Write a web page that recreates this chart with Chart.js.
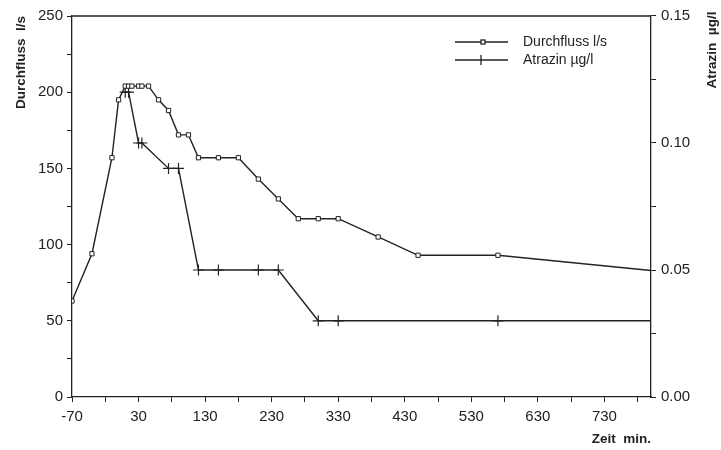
<!DOCTYPE html>
<html lang="de">
<head>
<meta charset="UTF-8">
<title>Durchfluss und Atrazin</title>
<script src="https://cdn.jsdelivr.net/npm/chart.js"></script>
<style>
  html, body { margin: 0; padding: 0; background: #fff; }
  #wrap { width: 721px; height: 450px; }
</style>
</head>
<body>
<div id="wrap"><canvas id="grafik"></canvas></div>
<script>
// Werte
var zeitDurchfluss = [-70, -40, -10, 0, 10, 15, 20, 30, 35, 45, 60, 75, 90, 105, 120, 150, 180, 210, 240, 270, 300, 330, 390, 450, 570, 800];
var durchfluss = [63, 94, 157, 195, 204, 204, 204, 204, 204, 204, 195, 188, 172, 172, 157, 157, 157, 143, 130, 117, 117, 117, 105, 93, 93, 83];

var zeitAtrazin = [10, 15, 30, 35, 75, 90, 120, 150, 210, 240, 300, 330, 570, 800];
var atrazin = [0.12, 0.12, 0.10, 0.10, 0.09, 0.09, 0.05, 0.05, 0.05, 0.05, 0.03, 0.03, 0.03, 0.03];

var xTicks = [-70, 30, 130, 230, 330, 430, 530, 630, 730];
var yTicksLinks = [0, 50, 100, 150, 200, 250];
var yTicksRechts = [0.00, 0.05, 0.10, 0.15];

var schrift = "'Liberation Sans', Arial, sans-serif";
var farbe = '#222';

function punkte(xs, ys) {
    return xs.map(function (x, i) { return { x: x, y: ys[i] }; });
}

// Rahmen oben, rechter Achsentitel und Legende
var extras = {
    id: 'extras',
    afterDraw: function (chart) {
        var ctx = chart.ctx;
        var a = chart.chartArea;
        ctx.save();
        ctx.strokeStyle = farbe;
        ctx.lineWidth = 1.3;
        ctx.beginPath();
        ctx.moveTo(a.left, a.top);
        ctx.lineTo(a.right, a.top);
        ctx.stroke();

        // Titel rechts
        ctx.fillStyle = farbe;
        ctx.font = 'bold 13.5px ' + schrift;
        ctx.textAlign = 'center';
        ctx.textBaseline = 'middle';
        ctx.translate(712, 50);
        ctx.rotate(-Math.PI / 2);
        ctx.fillText('Atrazin  \u00b5g/l', 0, 0);
        ctx.restore();

        // Legende
        ctx.save();
        ctx.strokeStyle = farbe;
        ctx.fillStyle = farbe;
        ctx.lineWidth = 1.3;
        ctx.font = '14px ' + schrift;
        ctx.textBaseline = 'middle';
        ctx.textAlign = 'left';
        var eintraege = [['Durchfluss l/s', 42, 'rect'], ['Atrazin \u00b5g/l', 60, 'cross']];
        eintraege.forEach(function (e) {
            ctx.beginPath();
            ctx.moveTo(455, e[1]);
            ctx.lineTo(508, e[1]);
            ctx.stroke();
            if (e[2] === 'rect') {
                ctx.fillStyle = '#fff';
                ctx.fillRect(481, e[1] - 2, 4, 4);
                ctx.strokeRect(481, e[1] - 2, 4, 4);
            } else {
                ctx.beginPath();
                ctx.moveTo(481, e[1] - 5);
                ctx.lineTo(481, e[1] + 5);
                ctx.stroke();
            }
            ctx.fillStyle = farbe;
            ctx.fillText(e[0], 523, e[1]);
        });
        ctx.restore();
    }
};

var ctx = document.getElementById('grafik').getContext('2d');
new Chart(ctx, {
    type: 'line',
    data: {
        datasets: [{
            label: 'Durchfluss l/s',
            data: punkte(zeitDurchfluss, durchfluss),
            yAxisID: 'y',
            borderColor: farbe,
            borderWidth: 1.4,
            backgroundColor: '#fff',
            pointStyle: 'rect',
            pointRadius: durchfluss.map(function (v, i) { return i === durchfluss.length - 1 ? 0 : 3; }),
            pointBorderWidth: 1,
            pointBorderColor: farbe,
            pointBackgroundColor: '#fff',
            tension: 0
        }, {
            label: 'Atrazin \u00b5g/l',
            data: punkte(zeitAtrazin, atrazin),
            yAxisID: 'y1',
            borderColor: farbe,
            borderWidth: 1.4,
            pointStyle: 'cross',
            pointRadius: atrazin.map(function (v, i) { return i === atrazin.length - 1 ? 0 : 5.5; }),
            pointBorderWidth: 1.2,
            pointBorderColor: farbe,
            tension: 0
        }]
    },
    options: {
        responsive: true,
        maintainAspectRatio: false,
        animation: false,
        devicePixelRatio: 1,
        layout: { padding: { top: 16, left: 0, right: 0, bottom: 0 } },
        plugins: {
            legend: { display: false },
            tooltip: { enabled: false }
        },
        scales: {
            x: {
                type: 'linear',
                min: -70,
                max: 800,
                afterBuildTicks: function (s) {
                    var t = [];
                    for (var v = -70; v <= 780; v += 50) t.push({ value: v });
                    s.ticks = t;
                },
                afterFit: function (s) { s.height = 53; },
                border: { display: true, color: farbe, width: 1.3 },
                grid: { drawOnChartArea: false, drawTicks: true, tickLength: 5, color: farbe },
                ticks: {
                    color: farbe,
                    padding: 6,
                    maxRotation: 0,
                    autoSkip: false,
                    font: { family: schrift, size: 15 },
                    callback: function (v) { return xTicks.indexOf(v) >= 0 ? String(v) : ''; }
                },
                title: {
                    display: true,
                    text: 'Zeit  min.',
                    align: 'end',
                    color: farbe,
                    padding: { top: 4, bottom: 3 },
                    font: { family: schrift, size: 13.5, weight: 'bold' }
                }
            },
            y: {
                position: 'left',
                min: 0,
                max: 250,
                afterBuildTicks: function (s) {
                    var t = [];
                    for (var v = 0; v <= 250; v += 25) t.push({ value: v });
                    s.ticks = t;
                },
                afterFit: function (s) { s.width = 72; },
                border: { display: true, color: farbe, width: 1.3 },
                grid: { drawOnChartArea: false, drawTicks: true, tickLength: 5, color: farbe },
                ticks: {
                    color: farbe,
                    padding: 4,
                    autoSkip: false,
                    font: { family: schrift, size: 15 },
                    callback: function (v) { return yTicksLinks.indexOf(v) >= 0 ? String(v) : ''; }
                },
                title: {
                    display: true,
                    text: 'Durchfluss  l/s',
                    align: 'end',
                    color: farbe,
                    padding: { top: 13 },
                    font: { family: schrift, size: 13.5, weight: 'bold' }
                }
            },
            y1: {
                position: 'right',
                min: 0,
                max: 0.15,
                afterBuildTicks: function (s) {
                    var t = [];
                    for (var i = 0; i <= 6; i++) t.push({ value: i * 0.025 });
                    s.ticks = t;
                },
                afterFit: function (s) { s.width = 70; },
                border: { display: true, color: farbe, width: 1.3 },
                grid: { drawOnChartArea: false, drawTicks: true, tickLength: 5, color: farbe },
                ticks: {
                    color: farbe,
                    padding: 5,
                    autoSkip: false,
                    font: { family: schrift, size: 15 },
                    callback: function (v) {
                        var k = Math.round(v * 1000) / 1000;
                        return yTicksRechts.indexOf(k) >= 0 ? k.toFixed(2) : '';
                    }
                }
            }
        }
    },
    plugins: [extras]
});
</script>
</body>
</html>
